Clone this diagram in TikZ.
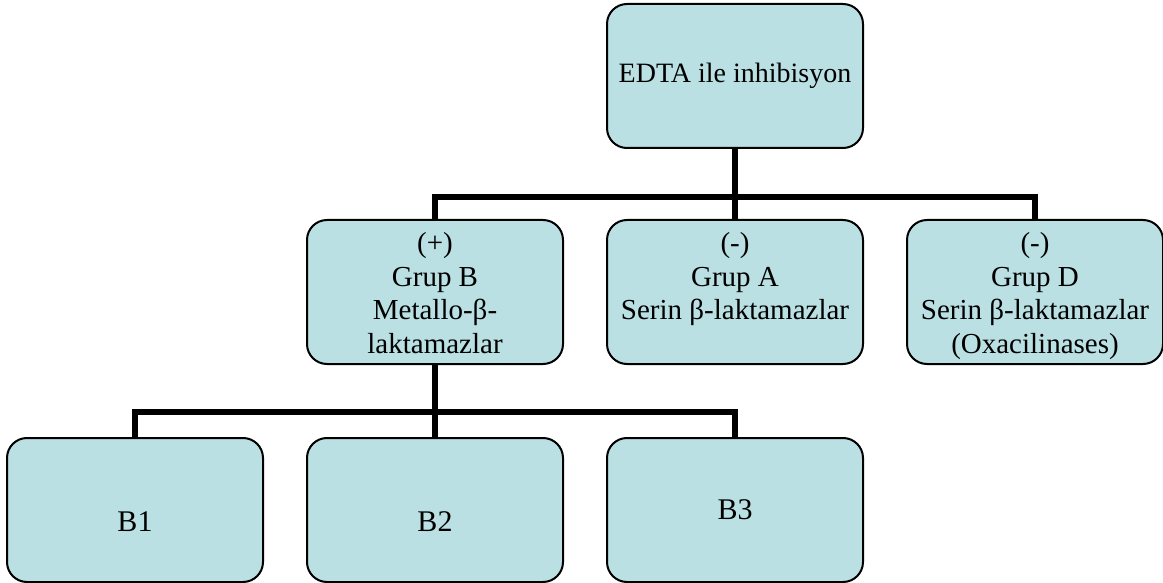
\documentclass[tikz,border=0pt]{standalone}
\usepackage{fontspec}
\setmainfont{Liberation Serif}
\usepackage{xcolor}
\usetikzlibrary{positioning}
\definecolor{boxfill}{HTML}{BAE0E3}

\tikzset{
  box/.style={draw=black, line width=1pt, fill=boxfill, rounded corners=10pt,
    minimum width=128pt, minimum height=72pt, inner sep=0pt},
  boxtext/.style={anchor=north, align=center, inner sep=0pt,
    font=\fontsize{14.5}{16.75}\selectfont},
  leaftext/.style={inner sep=0pt, font=\fontsize{15}{18}\selectfont},
  conn/.style={line width=3pt},
}

\begin{document}
\begin{tikzpicture}[x=0.5pt, y=-0.5pt]
    \useasboundingbox (0,0) rectangle (1163,583);

    % Boxes
    \node[box] (edta) at (735,76) {};
    \node[box] (grpA) at (735,292) {};
    \node[box, left=21pt of grpA] (grpB) {};
    \node[box, right=21pt of grpA] (grpD) {};
    \node[box, below=36pt of grpB] (b2) {};
    \node[box, left=21pt of b2] (b1) {};
    \node[box, right=21pt of b2] (b3) {};

    % Texts
    \node[inner sep=0pt, font=\fontsize{14}{16}\selectfont] (edtatxt) at (edta.center) {EDTA ile inhibisyon};
    \node[boxtext] (grpBtxt) at ([yshift=-6.5pt]grpB.north) {(+)\\Grup B\\Metallo-β-\\laktamazlar};
    \node[boxtext] (grpAtxt) at ([yshift=-6.5pt]grpA.north) {(-)\\Grup A\\Serin β-laktamazlar};
    \node[boxtext] (grpDtxt) at ([yshift=-6.5pt]grpD.north) {(-)\\Grup D\\Serin β-laktamazlar\\(Oxacilinases)};
    \node[leaftext] (b1txt) at ([yshift=-6pt]b1.center) {B1};
    \node[leaftext] (b2txt) at ([yshift=-6pt]b2.center) {B2};
    \node[leaftext] (b3txt) at (b3.center) {B3};

    % Connectors
    \coordinate (bus1) at (735,197);
    \coordinate (bus2) at (436,412);
    \foreach \c in {grpB,grpA,grpD}
        \draw[conn] (edta.south) -- (edta.south |- bus1) -| (\c.north);
    \foreach \c in {b1,b2,b3}
        \draw[conn] (grpB.south) -- (grpB.south |- bus2) -| (\c.north);
\end{tikzpicture}
\end{document}
